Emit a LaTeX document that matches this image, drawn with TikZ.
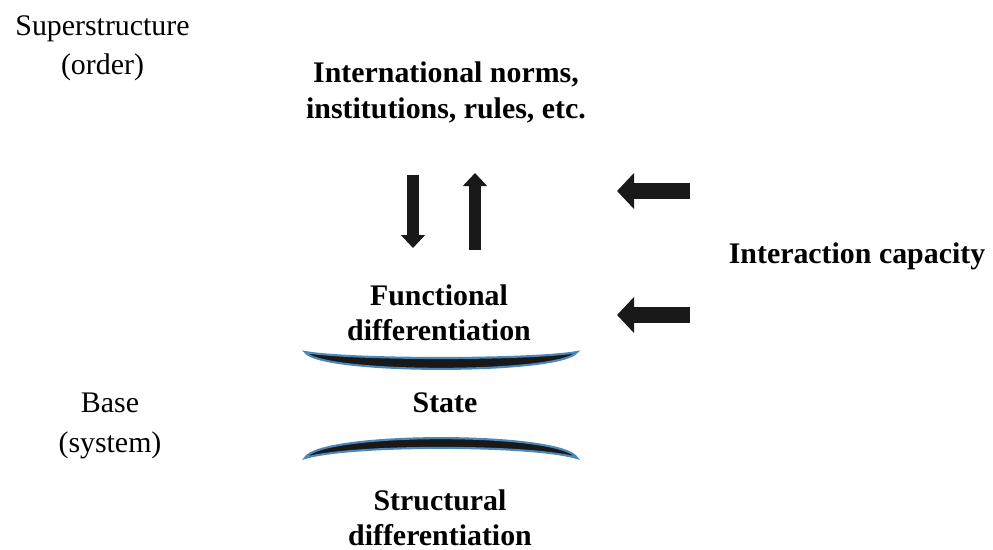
\documentclass[tikz,border=0pt]{standalone}
\usepackage{fontspec}
\setmainfont{Liberation Serif}
\usepackage{xcolor}
\usetikzlibrary{arrows.meta,positioning}
\definecolor{lensedge}{RGB}{75,135,185}

\begin{document}
\begin{tikzpicture}[
      lbl/.style={font=\fontsize{17}{22.5}\selectfont, align=center, inner sep=0pt},
      bl/.style={font=\fontsize{17}{20}\selectfont\bfseries, align=center, inner sep=0pt},
      varr/.style={line width=0.25cm, -{Triangle[width=0.47cm,length=0.26cm]}, black!90},
      harr/.style={line width=0.32cm, -{Triangle[width=0.7cm,length=0.34cm]}, black!90},
      lens/.style={fill=black!90, draw=lensedge, line width=1.2pt}]
    \useasboundingbox (0,0) rectangle (19.86,-11);
    \node[lbl] (super) at (2.05,-0.97) {Superstructure\\(order)};
    \node[lbl] (base) at (2.2,-8.52) {Base\\(system)};
    \node[bl] (norms) at (8.92,-1.85) {International norms,\\institutions, rules, etc.};
    \node[bl] (inter) at (17.14,-5.12) {Interaction capacity};
    \node[bl] (func) at (8.78,-6.26) {Functional\\differentiation};
    \node[bl] (state) at (8.9,-8.06) {State};
    \node[bl] (struct) at (8.8,-10.35) {Structural\\differentiation};
    % block arrows
    \coordinate (d1) at (8.26,-3.5);  \coordinate (d2) at (8.26,-4.96);
    \coordinate (u1) at (9.5,-5.0);   \coordinate (u2) at (9.5,-3.46);
    \coordinate (a1) at (13.8,-3.82); \coordinate (a2) at (12.34,-3.82);
    \coordinate (b1) at (13.8,-6.3);  \coordinate (b2) at (12.34,-6.3);
    \draw[varr] (d1) -- (d2); \draw[varr] (u1) -- (u2);
    \draw[harr] (a1) -- (a2); \draw[harr] (b1) -- (b2);
    % brackets round the state
    \coordinate (l1) at (6.1,-7.04); \coordinate (r1) at (11.54,-7.04);
    \coordinate (l2) at (6.1,-9.16); \coordinate (r2) at (11.54,-9.16);
    \filldraw[lens] (l1) .. controls (7.0,-7.2) and (10.64,-7.2) .. (r1)
       .. controls (11.24,-7.49) and (6.4,-7.49) .. (l1) -- cycle;
    \filldraw[lens] (l2) .. controls (7.0,-8.89) and (10.64,-8.89) .. (r2)
       .. controls (11.24,-8.63) and (6.4,-8.63) .. (l2) -- cycle;
  \end{tikzpicture}
\end{document}
